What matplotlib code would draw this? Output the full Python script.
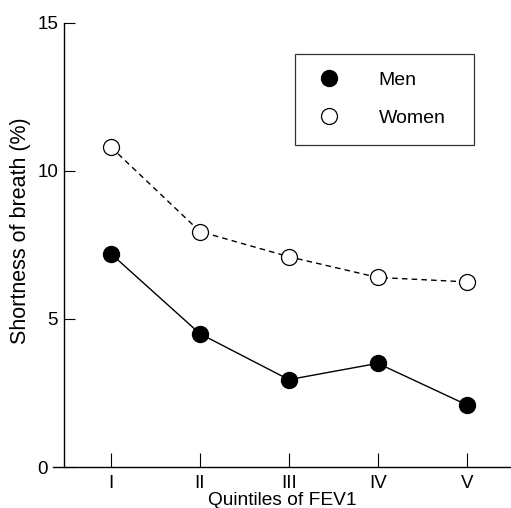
import matplotlib
matplotlib.use("Agg")
import matplotlib.pyplot as plt
from matplotlib.lines import Line2D

plt.rcParams['font.family'] = ['Liberation Sans', 'DejaVu Sans']

# data
quintiles = ['I', 'II', 'III', 'IV', 'V']
men = [7.2, 4.5, 2.95, 3.5, 2.1]
women = [10.8, 7.95, 7.1, 6.4, 6.25]

xpos = range(1, len(quintiles) + 1)

fig = plt.figure(figsize=(5.11, 5.08), dpi=100)
ax = fig.add_axes([0.1037, 0.0807, 0.8963, 0.8746])

ax.plot(xpos, women, color='black', linestyle=(0, (4, 3)), linewidth=1.0,
        marker='o', markersize=11.5, markerfacecolor='white',
        markeredgecolor='black', markeredgewidth=0.9, zorder=3)
ax.plot(xpos, men, color='black', linestyle='-', linewidth=1.0,
        marker='o', markersize=11.5, markerfacecolor='black',
        markeredgecolor='black', zorder=3)

ax.set_xlim(0.348, 5.498)
ax.set_ylim(0, 15)

# spines: left one sits a bit inside, bottom runs full width
for s in ['top', 'right']:
    ax.spines[s].set_visible(False)
ax.spines['left'].set_position(('data', 0.475))
ax.spines['left'].set_bounds(0, 15)
ax.spines['left'].set_linewidth(1.0)
ax.spines['bottom'].set_linewidth(1.0)

ax.set_yticks([0, 5, 10, 15])
ax.set_xticks(list(xpos))
ax.set_xticklabels(quintiles)
ax.tick_params(axis='y', direction='in', length=8, width=0.8, pad=4.5, labelsize=13.5)
ax.tick_params(axis='x', direction='in', length=10, width=0.8, pad=6, labelsize=13.5)
# the 0 label sits left of the axis line stub
ax.yaxis.get_major_ticks()[0].set_pad(12)

ax.set_ylabel('Shortness of breath (%)', fontsize=15.5)
ax.yaxis.set_label_coords(-0.048, 0.531)
ax.set_xlabel('Quintiles of FEV1', fontsize=13.8, labelpad=0)

handles = [
    Line2D([], [], linestyle='none', marker='o', markersize=11.5,
           markerfacecolor='black', markeredgecolor='black'),
    Line2D([], [], linestyle='none', marker='o', markersize=11.5,
           markerfacecolor='white', markeredgecolor='black', markeredgewidth=0.9),
]
leg = ax.legend(handles, ['Men', 'Women'], loc='upper left',
                bbox_to_anchor=(0.528, 0.9295, 0.391, 0.0), mode='expand',
                fontsize=14, frameon=True, fancybox=False, borderpad=0.9,
                handlelength=1.75, handletextpad=1.65, labelspacing=1.05,
                borderaxespad=0)
leg.get_frame().set_edgecolor('black')
leg.get_frame().set_linewidth(0.9)

plt.savefig('out.png', dpi=100)
